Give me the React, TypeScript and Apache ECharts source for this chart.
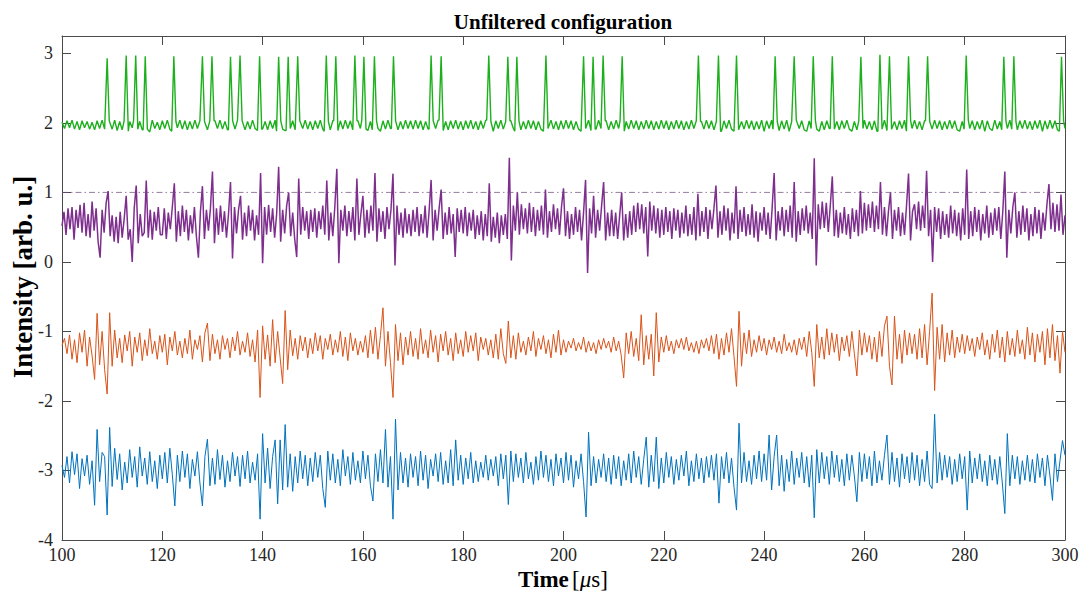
import React, { useEffect, useRef } from 'react';
import * as echarts from 'echarts';

// ---- data (hundredths relative to a level) ----
const timeStart = 100;
const stepHalf = 0.5;
const stepMagenta = 0.4;

const blueLevel = -2.98;
const blueDev = [
  5,-12,18,-20,25,-8,22,-28,15,-10,20,-22,12,-52,57,-18,24,18,-66,60,
  -25,30,-15,22,-30,10,-20,28,-12,18,-26,32,-10,16,-22,25,-18,12,-28,20,
  -14,24,-20,30,-8,-53,20,-18,26,-12,22,-28,14,-10,25,-20,-53,18,43,-24,
  16,-22,28,-15,20,-26,12,-18,24,-10,18,-25,20,-14,26,-20,10,-16,22,-72,
  51,-20,30,-28,18,42,-50,42,-30,64,-26,22,-32,18,-20,26,-14,20,-24,16,
  -18,24,-12,20,-28,-55,26,-16,22,-20,14,-24,28,-10,18,-22,24,-16,12,-20,
  26,-14,20,-24,-46,22,-18,28,-20,57,-26,18,-72,72,-30,24,-20,16,-26,22,
  -12,18,-24,26,-16,20,-28,14,-10,22,-18,24,-22,12,-20,28,-24,42,-16,20,
  -22,16,-14,24,-20,12,-18,10,-12,20,-16,14,-10,18,-24,22,-14,20,-51,26,
  -18,22,-12,16,-20,24,-14,10,-22,18,-16,26,-12,20,-18,14,-24,22,-10,16,
  -20,24,-16,20,-26,12,-14,22,-18,-69,53,-24,18,-20,14,-12,22,-18,16,-22,
  20,-14,18,-24,12,-16,22,-20,26,-12,18,-22,14,46,-26,20,-18,46,-28,16,
  -20,24,-12,18,-22,14,-16,20,-10,26,-24,12,-18,22,-14,16,-20,18,-12,20,
  -16,22,-49,18,-14,24,-20,16,-26,-59,66,-20,24,-18,12,-22,20,-14,26,-18,
  22,-16,49,-30,18,49,-24,20,-32,14,-18,26,-22,16,-12,24,-20,18,-26,20,
  -70,28,-20,24,-14,18,-22,26,-12,20,-18,14,-24,22,-16,20,-10,-47,24,-18,
  22,-14,18,-24,26,-20,12,-16,20,49,-22,24,-18,16,-26,22,-14,18,-20,24,
  -16,20,-24,14,-18,26,-22,-28,79,-20,24,-16,20,-12,18,-22,14,-18,22,-14,
  18,-59,26,-20,16,-14,22,-18,12,-24,20,-16,14,-22,18,-20,-64,51,-24,20,
  -14,18,-22,12,-16,20,-18,14,-20,22,-12,16,-24,20,-10,-45,22,-18,12,41,
  20,
];

const orangeLevel = -1.2;
const orangeDev = [
  0,10,-12,15,-20,8,-25,18,-10,22,-30,12,-15,-49,46,-28,20,-35,-70,47,
  -30,22,-18,10,-25,15,-8,20,-30,12,-10,18,-22,8,-15,24,-12,6,-20,14,
  -10,16,-28,12,-8,20,-14,6,-18,10,-12,22,-20,8,-6,14,-24,18,32,-22,
  16,-12,8,-20,14,-6,10,-18,12,-8,20,-14,6,-10,18,-16,8,-24,22,-75,
  28,-20,15,-30,37,-25,20,-18,-55,50,-35,22,-15,10,-20,14,-8,12,-18,10,
  -12,18,-8,14,-20,10,-6,16,-14,8,-10,20,-16,12,-22,18,-8,10,-14,6,
  -10,14,-18,22,-12,26,-20,14,54,-30,20,-25,-75,30,-22,18,-28,12,-14,20,
  -16,10,-20,24,-12,8,-18,22,-10,14,-24,16,-8,20,-14,10,-22,18,-12,8,
  -16,20,-10,14,-8,18,-22,12,-6,10,-14,8,-18,16,-20,24,-12,-26,35,-18,
  14,-20,18,-10,6,-14,12,-8,20,-16,10,-6,14,-12,8,-18,16,-10,22,-14,
  8,-10,6,-4,10,-8,4,-6,12,-10,6,-8,4,-12,8,-6,10,-4,6,-10,
  12,-8,6,-14,-47,18,-12,20,-16,10,-22,44,-28,14,-20,16,-44,47,-24,12,
  -10,14,-8,6,-12,8,-4,10,-6,12,-8,4,-10,6,-12,8,-4,10,-8,14,
  -12,16,-20,10,-14,18,-10,24,-16,-59,49,-30,18,-12,22,-16,8,-10,14,-8,
  10,-14,8,-6,12,-10,6,-12,16,-8,4,-10,8,-14,10,-6,12,-16,20,-10,
  -59,30,-18,12,-20,24,-14,18,-10,16,-22,12,-8,14,-16,20,-12,-44,22,-14,
  18,-10,14,-20,12,-24,20,-16,28,42,-30,-57,42,-20,16,-26,22,-14,18,-12,
  16,-20,24,-18,30,-28,20,75,-65,26,-20,30,-24,18,-14,22,-18,12,-10,16,
  -12,14,-8,10,-16,12,-6,18,-14,8,-20,16,-10,22,-18,12,-24,20,-14,10,
  -16,22,-12,8,-20,26,-14,18,-24,16,-10,20,-28,24,-18,30,-22,14,-40,20,
  -10,
];

const magentaLevel = 0.57;
const magentaDev = [
  -5,15,-18,20,-10,22,-25,18,-8,25,-15,28,-20,12,-22,30,-12,20,-28,-51,18,-15,28,45,-20,
  10,-28,8,-30,15,-22,5,38,-25,-10,-57,20,53,-30,12,-20,-15,60,-22,18,-25,15,-12,22,-18,
  -18,20,-24,14,-10,22,56,-28,16,-20,24,-14,18,-26,10,-16,22,-20,-51,15,52,-24,18,-12,20,
  73,-30,20,-18,24,-14,16,-22,12,58,-52,22,-16,18,38,-25,14,-20,24,-12,18,-26,10,-18,71,
  -59,22,-18,25,-14,20,-22,12,80,-28,18,-16,24,43,-20,14,-24,-50,63,-18,22,-12,16,-24,18,
  -14,20,-22,16,-10,24,-18,60,-26,14,-20,22,77,-59,18,-12,24,-20,16,-14,22,-26,63,-18,12,
  38,-22,18,-16,24,-12,71,-28,20,-14,16,-24,22,-10,18,70,-62,24,-18,14,-22,20,-16,12,-20,
  18,-14,22,-20,12,-16,24,-22,16,61,-26,18,-12,20,47,-24,14,-18,22,-16,12,-50,20,-14,18,
  -16,22,-20,14,-12,18,-24,10,-18,16,-26,12,-20,56,-28,8,-22,14,-30,10,-18,12,-24,93,-55,
  24,-12,43,-18,26,-10,20,-16,28,-14,22,-20,18,-12,24,-18,47,-22,16,-14,26,-10,20,-18,22,
  49,-20,16,-24,12,-18,22,-14,18,-26,14,61,-73,20,-16,38,-22,18,-12,24,58,-26,14,-20,18,
  -20,14,-24,10,43,-26,12,-22,16,-18,24,-14,28,-10,26,-16,22,-49,30,-12,24,-16,20,-22,18,
  -18,22,-14,16,-24,20,-12,18,-22,14,-16,24,-20,12,-18,22,-26,41,-20,16,-14,22,-24,18,-10,
  20,53,-22,16,-18,24,-12,20,-26,14,-16,52,-24,18,-14,22,-20,12,-18,26,-22,16,-28,14,-12,
  22,-18,14,-24,20,71,-26,16,-12,22,-20,18,-14,24,-22,58,-28,16,-18,20,-12,24,-16,14,-24,
  92,-62,26,-10,30,-8,28,-14,24,66,-20,18,-22,14,-16,22,-18,12,-24,20,-14,18,-20,45,-16,
  28,-12,26,-8,30,-14,24,-10,58,-18,22,-20,16,43,-24,18,-12,22,-20,14,-18,24,70,-26,16,
  26,-10,30,-12,24,-8,74,-20,18,-57,22,-14,20,-24,16,-18,12,-22,24,-16,18,-20,14,-26,20,
  -18,76,-24,16,-20,22,-14,18,-26,12,-16,24,-22,14,-18,20,-12,22,-24,16,73,-51,18,-16,22,
  43,-22,16,-18,24,-14,20,-26,12,-20,22,-16,18,-24,14,-12,26,55,-10,28,-14,26,-12,40,-18,
  10,
];

const greenLevel = 1.97;
const greenDev = [
  4,-5,6,-4,7,-6,5,-7,6,-4,5,-6,4,-7,6,-5,7,-6,-9,6,
  -6,7,-8,5,-7,6,-9,5,-4,7,-6,5,-7,6,-6,-10,7,-5,4,-7,
  6,-5,7,-6,-9,5,-4,7,-6,6,-7,5,-6,7,-5,6,-8,5,-7,6,
  -9,6,-5,7,-6,5,-7,-9,6,-6,7,-5,6,-7,5,-6,7,-5,-8,6,
  -6,5,-7,6,-5,7,-9,6,-6,-8,7,-5,6,-7,-10,6,-5,7,-6,5,
  -7,6,-5,7,-6,-9,5,-7,6,-5,-8,6,-6,7,-5,6,-7,-9,6,-5,
  7,-6,-8,5,-7,6,-5,-9,6,-6,7,-5,-9,6,-7,5,-6,7,-5,6,
  -6,7,-5,6,-7,5,-6,-9,6,-5,7,-6,-8,5,-7,6,-5,7,-6,5,
  -7,6,-5,7,-6,5,-7,6,-5,7,-6,5,-9,6,-5,7,-6,5,-8,6,
  -5,-9,6,-7,5,-6,7,-5,6,-7,5,-6,-9,6,-5,7,-6,5,-7,6,
  -6,7,-5,6,-7,5,-6,-9,6,-5,7,-8,6,-6,7,-5,-9,6,-7,5,
  -6,7,-5,6,-9,5,-6,7,-5,6,-7,5,-6,7,-5,6,-7,5,-6,7,
  -5,6,-7,5,-6,7,-5,6,-7,5,-6,7,-5,6,-7,5,-6,7,-5,6,
  -7,5,-6,-9,6,-5,7,-6,-9,6,-7,5,-6,7,-5,6,-7,5,-6,7,
  -9,6,-5,7,-6,5,-8,6,-6,7,-9,5,-6,7,-5,6,-7,-9,6,-5,
  7,-6,-9,5,-7,6,-5,7,-6,5,-7,6,-5,7,-6,-9,5,-7,6,-5,
  7,-6,5,-7,6,-9,5,-6,7,-8,6,-6,5,-7,6,-5,7,-9,6,-5,
  7,-6,5,-7,6,-8,5,-6,7,-5,6,-7,5,-6,7,-5,6,-7,-9,5,
  -6,7,-5,6,-7,5,-6,7,-9,6,-5,-8,7,-6,5,-7,6,-5,7,-6,
  5,-7,6,-5,7,-6,5,-7,6,-5,7,-9,6,-6,7,-5,6,-7,-9,6,
  -5,
];

const pulseTimes = [
  109.0, 112.8, 114.7, 116.6, 122.3, 128.0, 129.9, 133.6, 135.5, 139.4,
  143.2, 145.1, 147.0, 152.7, 154.6, 158.4, 160.2, 162.3, 166.1, 173.6,
  175.6, 185.1, 188.9, 190.7, 196.5, 204.0, 205.9, 207.9, 211.7, 226.9,
  230.9, 234.5, 242.2, 246.0, 249.8, 253.6, 259.3, 263.1, 265.0, 268.8,
  272.6, 280.3, 287.8, 289.8, 299.3,
];
const pulsePeaks = [
  2.93, 2.97, 2.97, 2.96, 2.96, 2.96, 2.96, 2.95, 2.97, 2.96,
  2.95, 2.95, 2.96, 2.97, 2.96, 2.97, 2.95, 2.96, 2.96, 2.97,
  2.96, 2.97, 2.95, 2.95, 2.97, 2.96, 2.95, 2.97, 2.96, 2.97,
  2.97, 2.97, 2.96, 2.96, 2.96, 2.96, 2.95, 2.98, 2.96, 2.96,
  2.96, 2.97, 2.95, 2.96, 2.95,
];

const referenceLevel = 1;
const xRange = [100, 300];
const yRange = [-4, 3.25];

// ---- builders ----
function build(level: number, step: number, devs: number[]): number[][] {
  return devs.map((d, i) => [+(timeStart + i * step).toFixed(3), +(level + d / 100).toFixed(3)]);
}

function buildGreen(): number[][] {
  const half = 0.42;
  const base = build(greenLevel, stepHalf, greenDev).filter(
    ([t]) => !pulseTimes.some((p) => Math.abs(t - p) < half)
  );
  const pts: number[][] = [...base];
  const idx = (t: number) =>
    Math.min(greenDev.length - 1, Math.max(0, Math.round((t - timeStart) / stepHalf)));
  pulseTimes.forEach((p, k) => {
    const before = greenLevel + greenDev[idx(p - half)] / 100;
    const after = greenLevel + greenDev[idx(p + half)] / 100;
    pts.push([p - half, before], [p, pulsePeaks[k]], [p + half, after]);
  });
  pts.sort((a, b) => a[0] - b[0]);
  return pts.filter((d) => d[0] <= xRange[1] + 1e-9 && d[0] >= xRange[0] - 1e-9);
}

const SERIF = 'Liberation Serif';
const AXIS_COLOR = '#4a4a4a';
const TICK_LABEL = '#262626';

export default function App() {
  const ref = useRef<HTMLDivElement>(null);
  useEffect(() => {
    if (!ref.current) return;
    const chart = echarts.init(ref.current, undefined, { renderer: 'svg' });
    const lineSeries = (name: string, data: number[][], color: string, width: number) => ({
      name,
      type: 'line',
      data,
      showSymbol: false,
      symbol: 'none',
      lineStyle: { color, width },
      itemStyle: { color },
      emphasis: { disabled: true },
      silent: true,
      z: 2,
    });
    const labelStyle = {
      color: TICK_LABEL,
      fontFamily: SERIF,
      fontSize: 18,
      fontWeight: 'normal',
      fontStyle: 'normal',
    };
    const commonX = {
      type: 'value',
      min: xRange[0],
      max: xRange[1],
      interval: 20,
      splitLine: { show: false },
      axisLine: { show: true, onZero: false, lineStyle: { color: AXIS_COLOR, width: 1 } },
      axisTick: { show: true, inside: true, length: 9, lineStyle: { color: AXIS_COLOR } },
    };
    const commonY = {
      type: 'value',
      min: yRange[0],
      max: yRange[1],
      interval: 1,
      splitLine: { show: false },
      axisLine: { show: true, onZero: false, lineStyle: { color: AXIS_COLOR, width: 1 } },
      axisTick: { show: true, inside: true, length: 9, lineStyle: { color: AXIS_COLOR } },
    };
    chart.setOption({
      animation: false,
      backgroundColor: '#ffffff',
      textStyle: { fontFamily: SERIF },
      grid: { left: 62, right: 16, top: 36, bottom: 51, containLabel: false, outerBoundsMode: 'none' },
      xAxis: [
        {
          ...commonX,
          position: 'bottom',
          axisLabel: { ...labelStyle, margin: 6 },
        },
        { ...commonX, position: 'top', axisLabel: { show: false } },
      ],
      yAxis: [
        {
          ...commonY,
          position: 'left',
          axisLabel: {
            ...labelStyle,
            margin: 9,
            formatter: (v: number) => (Number.isInteger(v) ? String(v) : ''),
          },
        },
        { ...commonY, position: 'right', axisLabel: { show: false } },
      ],
      series: [
        lineSeries('blue', build(blueLevel, stepHalf, blueDev), '#0072BD', 1),
        lineSeries('orange', build(orangeLevel, stepHalf, orangeDev), '#D95319', 1),
        lineSeries('magenta', build(magentaLevel, stepMagenta, magentaDev), '#7E2F8E', 1.5),
        lineSeries('green', buildGreen(), '#1DB01D', 1.4),
        {
          name: 'reference',
          type: 'line',
          data: [
            [xRange[0], referenceLevel],
            [xRange[1], referenceLevel],
          ],
          showSymbol: false,
          symbol: 'none',
          silent: true,
          lineStyle: { color: '#6f4a7a', width: 0.8, type: [6, 3, 1.5, 3], opacity: 0.9 },
          z: 3,
        },
      ],
      graphic: [
        {
          type: 'text',
          x: 563,
          y: 22,
          style: {
            text: 'Unfiltered configuration',
            font: `bold 21px ${SERIF}`,
            fill: '#000',
            textAlign: 'center',
            textVerticalAlign: 'middle',
          },
        },
        {
          type: 'text',
          x: 23,
          y: 277,
          rotation: Math.PI / 2,
          style: {
            text: 'Intensity [arb. u.]',
            font: `bold 27px ${SERIF}`,
            fill: '#000',
            textAlign: 'center',
            textVerticalAlign: 'middle',
          },
        },
        {
          type: 'text',
          x: 563,
          y: 579,
          style: {
            text: '{b|Time} {n|[}{i|μ}{n|s]}',
            textAlign: 'center',
            textVerticalAlign: 'middle',
            fill: '#000',
            rich: {
              b: { font: `bold 23px ${SERIF}`, fill: '#000' },
              n: { font: `23px ${SERIF}`, fill: '#000' },
              i: { font: `italic 23px ${SERIF}`, fill: '#000' },
            },
          },
        },
      ],
    });
    return () => chart.dispose();
  }, []);
  return (
    <div
      ref={ref}
      style={{ position: 'fixed', left: 0, top: 0, width: 1081, height: 591, background: '#fff' }}
    />
  );
}
